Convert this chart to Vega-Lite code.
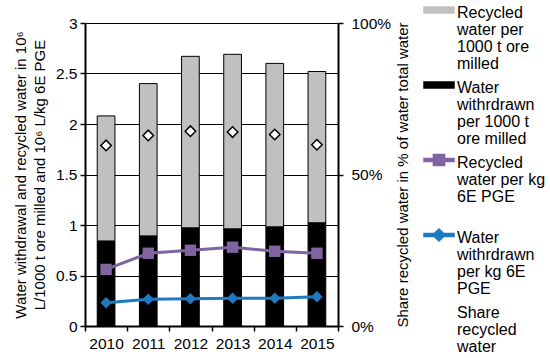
{
  "$schema": "https://vega.github.io/schema/vega-lite/v6.json",
  "width": 253,
  "height": 303,
  "autosize": {"type": "none"},
  "padding": {"left": 85, "top": 23, "right": 212, "bottom": 32},
  "config": {
    "font": "Liberation Sans",
    "view": {"stroke": null},
    "axis": {"labelColor": "black", "titleColor": "black", "domainColor": "black", "tickColor": "black", "labelFont": "Liberation Sans", "titleFont": "Liberation Sans", "titleFontWeight": "normal"}
  },
  "data": {
    "values": [
      {"year": "2010", "series": "Recycled water per 1000 t ore milled", "value": 1.24},
      {"year": "2011", "series": "Recycled water per 1000 t ore milled", "value": 1.51},
      {"year": "2012", "series": "Recycled water per 1000 t ore milled", "value": 1.70},
      {"year": "2013", "series": "Recycled water per 1000 t ore milled", "value": 1.73},
      {"year": "2014", "series": "Recycled water per 1000 t ore milled", "value": 1.62},
      {"year": "2015", "series": "Recycled water per 1000 t ore milled", "value": 1.50},
      {"year": "2010", "series": "Water withrdrawn per 1000 t ore milled", "value": 0.84},
      {"year": "2011", "series": "Water withrdrawn per 1000 t ore milled", "value": 0.89},
      {"year": "2012", "series": "Water withrdrawn per 1000 t ore milled", "value": 0.97},
      {"year": "2013", "series": "Water withrdrawn per 1000 t ore milled", "value": 0.96},
      {"year": "2014", "series": "Water withrdrawn per 1000 t ore milled", "value": 0.98},
      {"year": "2015", "series": "Water withrdrawn per 1000 t ore milled", "value": 1.02},
      {"year": "2010", "series": "Recycled water per kg 6E PGE", "value": 0.56},
      {"year": "2011", "series": "Recycled water per kg 6E PGE", "value": 0.72},
      {"year": "2012", "series": "Recycled water per kg 6E PGE", "value": 0.75},
      {"year": "2013", "series": "Recycled water per kg 6E PGE", "value": 0.78},
      {"year": "2014", "series": "Recycled water per kg 6E PGE", "value": 0.74},
      {"year": "2015", "series": "Recycled water per kg 6E PGE", "value": 0.72},
      {"year": "2010", "series": "Water withrdrawn per kg 6E PGE", "value": 0.23},
      {"year": "2011", "series": "Water withrdrawn per kg 6E PGE", "value": 0.265},
      {"year": "2012", "series": "Water withrdrawn per kg 6E PGE", "value": 0.27},
      {"year": "2013", "series": "Water withrdrawn per kg 6E PGE", "value": 0.275},
      {"year": "2014", "series": "Water withrdrawn per kg 6E PGE", "value": 0.275},
      {"year": "2015", "series": "Water withrdrawn per kg 6E PGE", "value": 0.29},
      {"year": "2010", "series": "Share recycled water", "value": 0.596},
      {"year": "2011", "series": "Share recycled water", "value": 0.629},
      {"year": "2012", "series": "Share recycled water", "value": 0.643},
      {"year": "2013", "series": "Share recycled water", "value": 0.64},
      {"year": "2014", "series": "Share recycled water", "value": 0.632},
      {"year": "2015", "series": "Share recycled water", "value": 0.598}
    ]
  },
  "encoding": {
    "x": {
      "field": "year", "type": "ordinal",
      "scale": {"paddingInner": 0, "paddingOuter": 0},
      "axis": {"title": null, "labelAngle": 0, "tickBand": "extent", "domainWidth": 2, "tickSize": 5, "tickWidth": 1.5, "labelFontSize": 15.5, "labelPadding": 5, "grid": false}
    },
    "color": {
      "field": "series", "type": "nominal",
      "scale": {
        "domain": ["Recycled water per 1000 t ore milled", "Water withrdrawn per 1000 t ore milled", "Recycled water per kg 6E PGE", "Water withrdrawn per kg 6E PGE", "Share recycled water"],
        "range": ["#c0c0c0", "#000000", "#8064a2", "#1f7ac2", "#ffffff"]
      },
      "legend": {
        "orient": "none", "legendX": 346, "legendY": -26,
        "title": null,
        "symbolSize": 64,
        "labelFontSize": 16,
        "labelColor": "black",
        "labelBaseline": "top",
        "labelOffset": 10,
        "rowPadding": 0,
        "labelLimit": 200,
        "labelExpr": "datum.label == 'Recycled water per 1000 t ore milled' ? ['Recycled','water per','1000 t ore','milled'] : datum.label == 'Water withrdrawn per 1000 t ore milled' ? ['Water','withrdrawn','per 1000 t','ore milled'] : datum.label == 'Recycled water per kg 6E PGE' ? ['Recycled','water per kg','6E PGE',''] : datum.label == 'Water withrdrawn per kg 6E PGE' ? ['Water','withrdrawn','per kg 6E','PGE'] : ['Share','recycled','water']",
        "encode": {
          "symbols": {"update": {
            "shape": {"signal": "datum.value == 'Recycled water per 1000 t ore milled' || datum.value == 'Water withrdrawn per 1000 t ore milled' ? 'M-3.75,0.5H3.75V2H-3.75Z' : datum.value == 'Recycled water per kg 6E PGE' ? 'M-3.75,0.85H-1.4V-0.15H1.4V0.85H3.75V1.65H1.4V2.65H-1.4V1.65H-3.75Z' : datum.value == 'Water withrdrawn per kg 6E PGE' ? 'M-3.75,0.85H-1.1L0,-0.25L1.1,0.85H3.75V1.65H1.1L0,2.75L-1.1,1.65H-3.75Z' : 'M0,0L1.25,1.25L0,2.5L-1.25,1.25Z'"},
            "fill": {"scale": "color", "field": "value"},
            "stroke": {"signal": "datum.value == 'Recycled water per 1000 t ore milled' || datum.value == 'Share recycled water' ? 'black' : 'transparent'"},
            "strokeWidth": {"value": 1.5},
            "opacity": {"value": 1}
          }},
          "labels": {"update": {"lineHeight": {"value": 17}}}
        }
      }
    }
  },
  "layer": [
    {
      "encoding": {
        "y": {
          "field": "value", "type": "quantitative",
          "scale": {"domain": [0, 3], "nice": false},
          "axis": {
            "orient": "left",
            "values": [0, 0.5, 1, 1.5, 2, 2.5, 3],
            "format": "~g",
            "grid": true, "gridColor": "black", "gridWidth": 1, "gridOpacity": 1,
            "domainWidth": 2, "tickSize": 5, "tickWidth": 1.5,
            "labelFontSize": 15.5, "labelPadding": 3,
            "title": ["Water withdrawal and recycled water in 10⁶", "L/1000 t ore milled and 10⁶ L/kg 6E PGE"],
            "titleFontSize": 15, "titleLineHeight": 19, "titlePadding": 8
          }
        }
      },
      "layer": [
        {
          "transform": [{"filter": {"field": "series", "oneOf": ["Recycled water per 1000 t ore milled", "Water withrdrawn per 1000 t ore milled"]}}],
          "mark": {"type": "bar", "width": {"band": 0.42}, "stroke": "black", "strokeWidth": 1},
          "encoding": {"order": {"field": "series", "sort": "descending"}}
        },
        {
          "transform": [{"filter": {"field": "series", "equal": "Recycled water per kg 6E PGE"}}],
          "mark": {"type": "line", "strokeWidth": 3, "point": {"shape": "square", "size": 130, "filled": true, "opacity": 1}}
        },
        {
          "transform": [{"filter": {"field": "series", "equal": "Water withrdrawn per kg 6E PGE"}}],
          "mark": {"type": "line", "strokeWidth": 3, "point": {"shape": "diamond", "size": 130, "filled": true, "opacity": 1}}
        }
      ]
    },
    {
      "transform": [{"filter": {"field": "series", "equal": "Share recycled water"}}],
      "mark": {"type": "point", "shape": "diamond", "size": 110, "filled": true, "stroke": "black", "strokeWidth": 1.5, "opacity": 1},
      "encoding": {
        "y": {
          "field": "value", "type": "quantitative",
          "scale": {"domain": [0, 1], "nice": false},
          "axis": {
            "orient": "right", "values": [0, 0.5, 1], "format": "%", "grid": false,
            "domainWidth": 2, "tickSize": 5, "tickWidth": 1.5,
            "labelFontSize": 15.5, "labelPadding": 8,
            "title": "Share recycled water in % of water  total water",
            "titleFontSize": 15, "titleAngle": -90, "titlePadding": 20
          }
        }
      }
    }
  ],
  "resolve": {"scale": {"y": "independent"}}
}
